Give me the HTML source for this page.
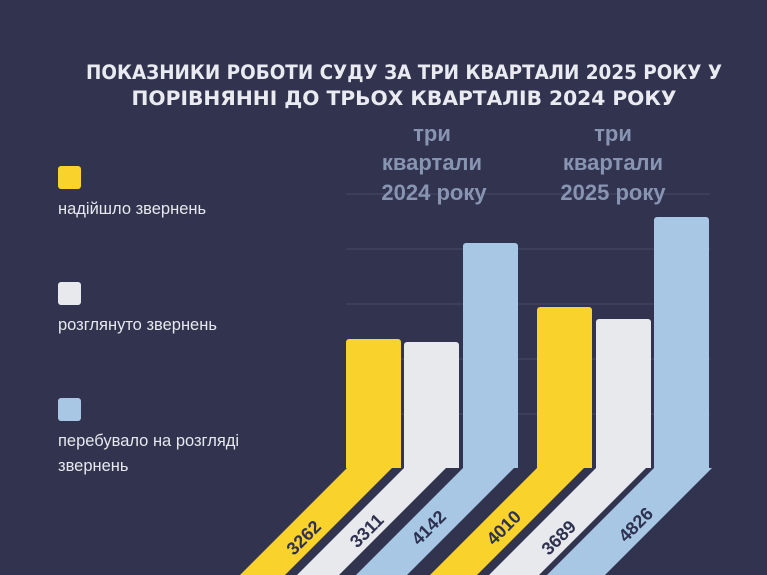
<!DOCTYPE html><html><head><meta charset="utf-8"><style>
body{margin:0;width:767px;height:575px;overflow:hidden;background:#31334f;font-family:"Liberation Sans","DejaVu Sans",sans-serif}
</style></head><body>
<svg width="767" height="575" xmlns="http://www.w3.org/2000/svg" style="position:absolute;left:0;top:0">
<rect width="767" height="575" fill="#31334f"/>
<g fill="#e9ebf1" font-weight="bold" font-size="19.5" text-anchor="middle" font-family="'DejaVu Sans','Liberation Sans',sans-serif">
<text x="404" y="79" textLength="636" lengthAdjust="spacingAndGlyphs">ПОКАЗНИКИ РОБОТИ СУДУ ЗА ТРИ КВАРТАЛИ 2025 РОКУ У</text>
<text x="404" y="105" textLength="545" lengthAdjust="spacingAndGlyphs">ПОРІВНЯННІ ДО ТРЬОХ КВАРТАЛІВ 2024 РОКУ</text>
</g>
<g stroke="#474a68" stroke-width="1">
<line x1="346" y1="194" x2="710" y2="194"/><line x1="346" y1="249" x2="710" y2="249"/><line x1="346" y1="304" x2="710" y2="304"/><line x1="346" y1="359" x2="710" y2="359"/><line x1="346" y1="414" x2="710" y2="414"/>
</g>
<g fill="#8795b2" font-weight="bold" font-size="22" text-anchor="middle">
<text x="432" y="141">три</text><text x="432" y="170">квартали</text><text x="434" y="200">2024 року</text>
<text x="613" y="141">три</text><text x="613" y="170">квартали</text><text x="613" y="200">2025 року</text>
</g>
<rect x="346" y="339" width="55" height="135" rx="3" fill="#f9d22b"/>
<rect x="404" y="342" width="55" height="132" rx="3" fill="#e8e9ed"/>
<rect x="463" y="243" width="55" height="231" rx="3" fill="#a8c7e4"/>
<rect x="537" y="307" width="55" height="167" rx="3" fill="#f9d22b"/>
<rect x="596" y="319" width="55" height="155" rx="3" fill="#e8e9ed"/>
<rect x="654" y="217" width="55" height="257" rx="3" fill="#a8c7e4"/>
<rect x="340" y="468" width="380" height="107" fill="#31334f"/>
<polygon points="347,468 392,468 285,575 240,575" fill="#f9d22b"/>
<polygon points="404,468 446,468 339,575 297,575" fill="#e8e9ed"/>
<polygon points="463,468 514,468 407,575 356,575" fill="#a8c7e4"/>
<polygon points="537,468 584,468 477,575 430,575" fill="#f9d22b"/>
<polygon points="596,468 646,468 539,575 489,575" fill="#e8e9ed"/>
<polygon points="654,468 712,468 605,575 547,575" fill="#a8c7e4"/>
<g fill="#2e3150" font-weight="bold" font-size="18" text-anchor="middle">
<text transform="translate(308,542) rotate(-45)">3262</text>
<text transform="translate(371,535) rotate(-45)">3311</text>
<text transform="translate(433,532) rotate(-45)">4142</text>
<text transform="translate(508,532) rotate(-45)">4010</text>
<text transform="translate(563,542) rotate(-45)">3689</text>
<text transform="translate(640,529) rotate(-45)">4826</text>
</g>
<rect x="58" y="166" width="23" height="23" rx="3" fill="#f9d22b"/>
<rect x="58" y="282" width="23" height="23" rx="3" fill="#e8e9ed"/>
<rect x="58" y="398" width="23" height="23" rx="3" fill="#a8c7e4"/>
<g fill="#e6e8ee" font-size="16.5">
<text x="58" y="214">надійшло звернень</text>
<text x="58" y="330">розглянуто звернень</text>
<text x="58" y="446">перебувало на розгляді</text>
<text x="58" y="471">звернень</text>
</g>
</svg>
</body></html>
